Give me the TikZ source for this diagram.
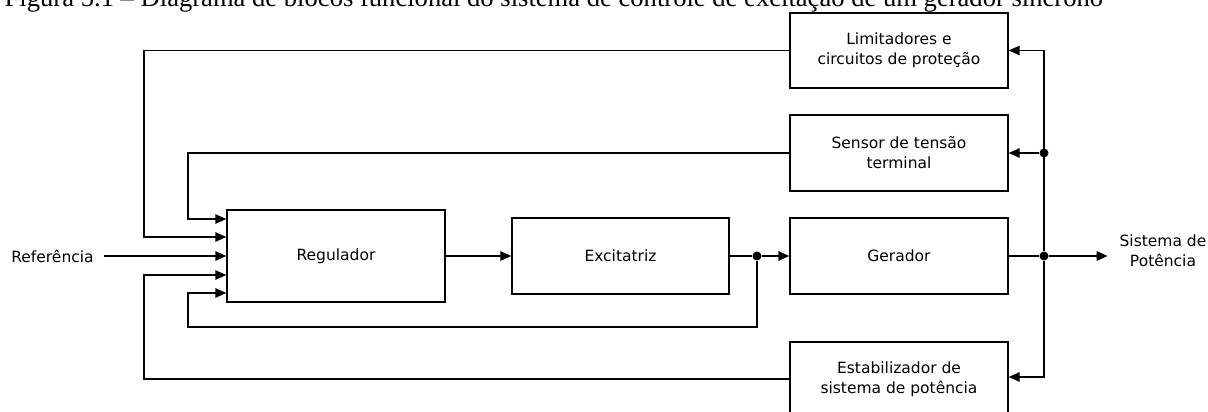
\documentclass[tikz,border=0pt]{standalone}
\usepackage{fontspec}
\setmainfont{DejaVu Sans}
\newfontfamily\capfont{Liberation Serif}
\usetikzlibrary{arrows.meta}
\begin{document}
\begin{tikzpicture}[x=1pt,y=-1pt,line width=1.4pt,font=\fontsize{15.5}{20}\selectfont,
  blk/.style={draw,minimum width=218pt,minimum height=76pt,align=center,inner sep=0pt},
  arr/.style={-{Triangle[length=11pt,width=9.5pt]}},
  dot/.style={circle,fill,inner sep=0pt,minimum size=9pt}]
\clip (0,0) rectangle (1208,412);
\node[anchor=base west,inner sep=0pt,font=\capfont\fontsize{26.6}{30}\selectfont] (cap) at (4,6.5) {Figura 5.1 – Diagrama de blocos funcional do sistema de controle de excitação de um gerador síncrono};
\node[blk,minimum height=75pt] (lim) at (899,50.5) {Limitadores e\\circuitos de proteção};
\node[blk] (sen) at (899,153) {Sensor de tensão\\terminal};
\node[blk] (ger) at (899,256) {Gerador};
\node[blk,minimum height=74pt] (est) at (899,379) {Estabilizador de\\sistema de potência};
\node[blk,minimum height=92pt] (reg) at (336,256) {Regulador};
\node[blk,minimum width=217pt] (exc) at (620.5,256) {Excitatriz};
\node (ref) at (52.5,256) {Referência};
\node[align=center] (sis) at (1163,251) {Sistema de\\Potência};
\node[dot] (je) at (757,256) {};
\node[dot] (jb) at (1044,256) {};
\node[dot] (js) at (1044,153) {};
\coordinate (ll) at (144,0);
\coordinate (ls) at (188,0);
\coordinate (fb) at (0,327);
\draw[arr] (reg) -- (exc);
\draw (exc) -- (je);
\draw[arr] (je) -- (ger);
\draw (ger) -- (jb);
\draw[arr,shorten >=8pt] (jb) -- (sis.west |- jb);
\draw[arr] (jb) |- (lim);
\draw[arr] (js) -- (sen);
\draw[arr] (jb) |- ([yshift=2pt]est.east);
\draw[arr,shorten <=6pt] (ref) -- (reg);
\draw[arr] (sen.west) -- (sen.west -| ls) |- ([yshift=37pt]reg.west);
\draw[arr] (lim.west) -- (lim.west -| ll) |- ([yshift=19pt]reg.west);
\draw[arr] (est.west) -- (est.west -| ll) |- ([yshift=-19pt]reg.west);
\draw[arr] (je) -- (je |- fb) -- (fb -| ls) |- ([yshift=-37pt]reg.west);
\end{tikzpicture}
\end{document}
